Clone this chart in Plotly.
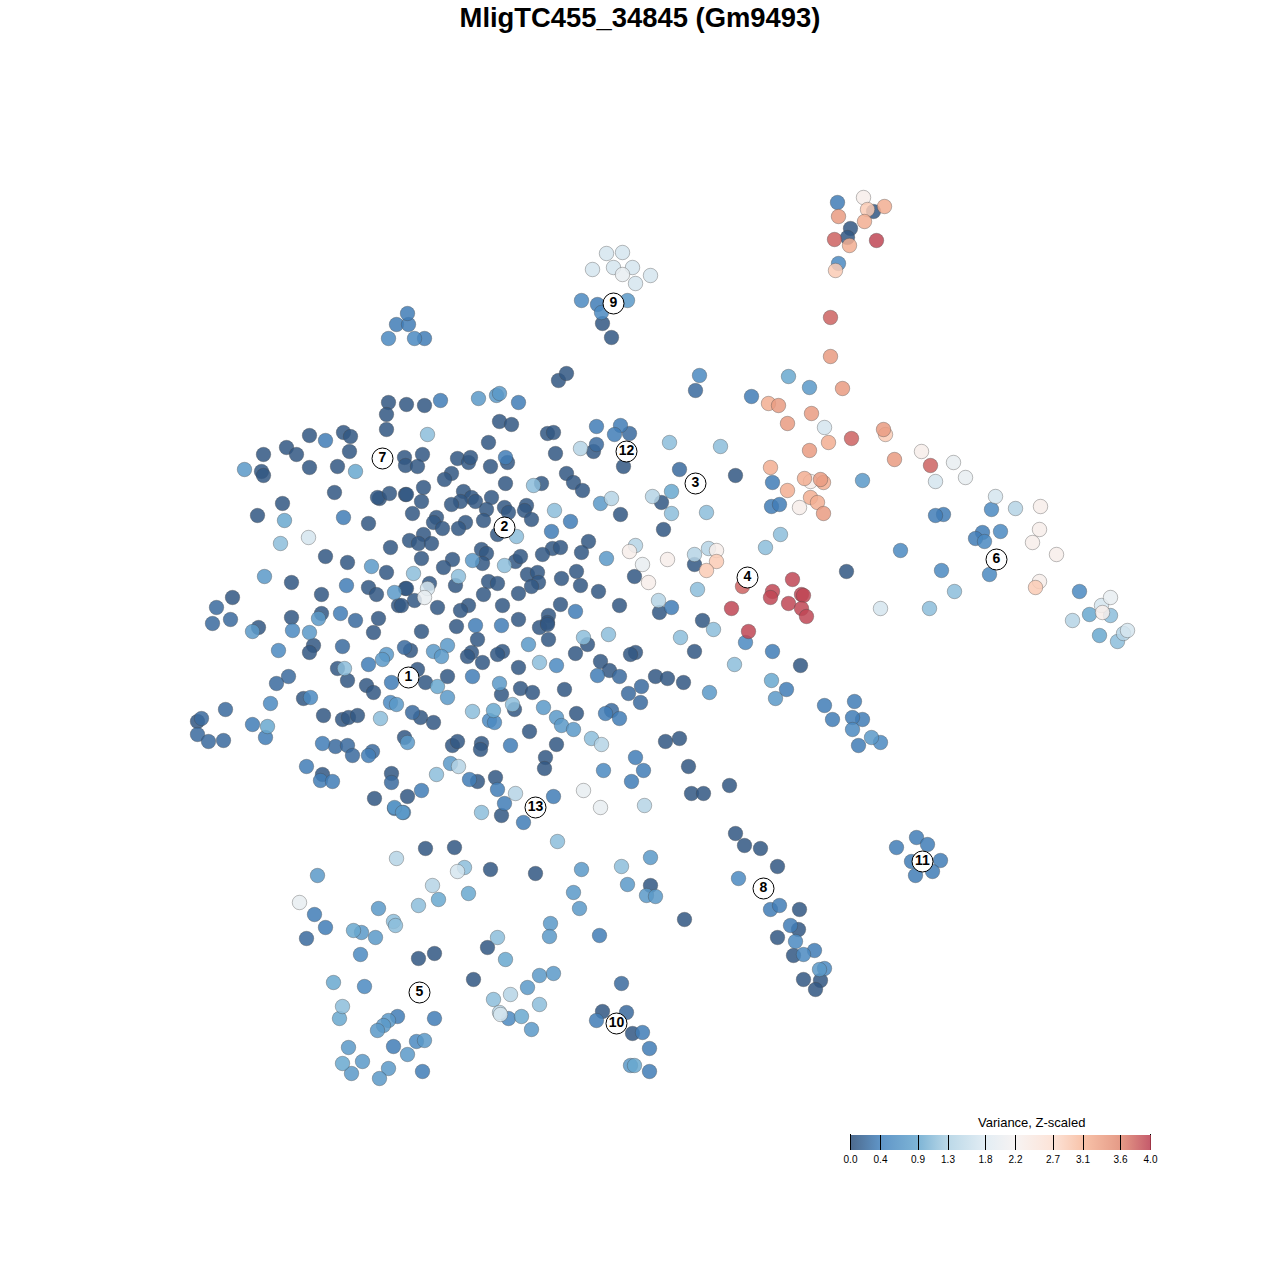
import plotly.graph_objects as go

# cells as (x, y), grouped by variance level
var_005 = [
    (388,402),(406,404),(424,405),(386,414),(386,429),(309,435),(343,432),(350,436),(263,454),(286,447),
    (296,454),(349,451),(309,467),(337,466),(261,471),(263,475),(334,492),(379,498),(377,497),(389,493),
    (405,494),(282,503),(257,515),(368,523),(412,513),(409,540),(390,547),(325,556),(347,562),(386,572),
    (291,582),(368,587),(376,594),(405,588),(414,600),(398,605),(321,594),(232,597),(291,617),(321,613),
    (378,618),(499,421),(511,424),(488,442),(547,433),(553,432),(593,451),(555,453),(623,466),(404,457),
    (405,465),(422,454),(417,466),(457,458),(468,462),(470,457),(490,466),(507,462),(451,473),(444,479),
    (566,473),(573,482),(582,490),(505,483),(541,483),(423,487),(406,494),(421,501),(463,491),(471,497),
    (460,501),(451,504),(475,501),(491,497),(486,509),(504,507),(508,512),(526,505),(524,510),(531,519),
    (620,514),(483,520),(436,517),(433,522),(442,528),(465,522),(458,528),(423,534),(418,543),(431,543),
    (497,534),(552,548),(560,547),(542,554),(588,541),(581,552),(421,558),(452,559),(443,567),(481,549),
    (486,553),(482,563),(515,561),(520,556),(527,574),(537,572),(576,571),(561,578),(634,576),(429,583),
    (406,588),(455,585),(488,581),(497,583),(483,594),(518,593),(538,582),(531,586),(580,585),(598,591),
    (437,607),(468,605),(460,610),(502,605),(560,604),(619,605),(518,619),(548,615),(547,622),(558,380),
    (566,373),(401,605),(539,627),(547,624),(456,626),(421,631),(477,639),(548,639),(587,644),(410,650),
    (471,652),(467,656),(482,662),(502,651),(497,654),(575,653),(635,652),(630,654),(655,676),(518,667),
    (600,661),(609,670),(417,669),(425,682),(447,676),(501,694),(520,688),(532,692),(564,689),(420,717),
    (433,722),(514,709),(576,713),(529,731),(556,744),(404,737),(452,745),(457,741),(481,743),(480,749),
    (545,757),(544,768),(477,781),(495,777),(501,815),(407,796),(258,627),(373,632),(313,645),(309,652),
    (337,668),(347,680),(366,685),(373,692),(303,698),(197,721),(323,715),(342,719),(348,717),(357,715),
    (391,773),(374,798),(322,774),(659,612),(702,620),(694,651),(667,678),(683,682),(800,665),(665,741),
    (679,738),(688,766),(729,785),(691,793),(703,793),(663,529),(661,502),(735,475),(846,571),(694,564),
    (873,211),(850,228),(847,237),(602,323),(611,337),(735,833),(744,845),(760,848),(777,866),(799,909),
    (798,929),(777,937),(793,955),(803,979),(820,980),(815,989),(425,848),(454,847),(490,869),(535,873),
    (650,885),(684,919),(487,947),(434,953),(418,958),(473,979),(602,1011),(632,1033),
]
var_02 = [
    (216,607),(212,623),(230,619),(355,620),(342,646),(288,676),(276,683),(225,709),(201,718),(197,734),
    (208,741),(223,740),(335,746),(347,745),(352,755),(372,751),(412,712),(404,647),(391,782),(596,444),
    (629,433),(628,693),(641,686),(640,702),(619,676),(611,710),(695,390),(679,469),(306,938),(626,1012),
    (621,983),
]
var_035 = [
    (325,440),(343,517),(346,585),(340,613),(440,400),(518,402),(596,426),(620,425),(614,434),(505,457),
    (570,521),(551,531),(575,611),(475,625),(501,625),(597,675),(472,676),(605,713),(619,718),(510,745),
    (635,757),(643,770),(631,781),(469,779),(497,789),(504,803),(523,822),(553,796),(421,790),(394,808),
    (252,724),(265,737),(322,743),(368,755),(368,664),(391,682),(306,766),(320,780),(332,781),(837,202),
    (597,304),(396,324),(408,324),(407,313),(424,338),(771,506),(779,504),(943,514),(935,515),(772,482),
    (751,396),(982,532),(975,538),(916,837),(927,844),(896,847),(911,861),(940,860),(932,871),(915,875),
    (824,705),(832,719),(862,719),(772,651),(671,607),(770,909),(779,905),(790,925),(814,950),(314,914),
    (325,927),(599,935),(434,1018),(397,1016),(642,1032),(393,1046),(596,1020),(422,1071),(649,1071),(649,1048),
    (854,701),(852,717),(858,745),(786,689),
]
var_05 = [
    (278,650),(292,630),(310,697),(270,703),(390,702),(403,812),(556,665),(603,770),(489,720),(494,722),
    (838,263),(581,300),(601,312),(388,338),(414,338),(699,375),(900,550),(991,509),(1000,531),(984,541),
    (1079,591),(852,729),(880,742),(738,878),(795,941),(803,954),(824,968),(360,954),(364,986),(416,1041),
    (508,1018),(989,574),(941,570),(745,642),
]
var_07 = [
    (244,469),(264,576),(371,566),(394,592),(318,618),(252,631),(309,632),(386,654),(478,398),(496,395),
    (499,393),(606,558),(600,503),(472,560),(433,651),(447,645),(441,656),(447,697),(499,683),(396,704),
    (407,742),(543,707),(556,717),(561,725),(573,729),(450,763),(394,807),(402,812),(528,644),(382,659),
    (627,300),(317,875),(581,869),(650,857),(627,884),(646,895),(655,896),(573,892),(579,908),(378,908),
    (550,923),(549,936),(361,932),(375,937),(539,975),(553,973),(527,987),(388,1020),(383,1025),(377,1030),
    (424,1040),(407,1054),(362,1061),(388,1068),(351,1073),(379,1078),(531,1029),(348,1047),(630,1065),(809,387),
    (862,480),(871,737),(775,698),(709,692),(819,969),
]
var_09 = [
    (355,471),(284,520),(267,726),(493,710),(437,686),(438,899),(788,376),(771,680),(671,491),(1089,614),
    (468,893),(505,959),(333,982),(353,930),(342,1063),(339,1018),(634,1065),(521,1016),(1099,635),
]
var_11 = [
    (427,434),(533,485),(344,668),(554,510),(504,565),(516,536),(280,543),(413,573),(458,576),(380,718),
    (539,662),(583,637),(608,634),(472,711),(512,704),(591,738),(436,774),(481,812),(557,841),(464,867),
    (621,866),(418,905),(393,921),(395,925),(497,937),(342,1006),(493,999),(539,1004),(720,446),(669,442),
    (671,513),(706,512),(780,534),(765,547),(697,589),(713,629),(680,637),(734,664),(954,591),(929,608),
    (1110,615),(1117,641),
]
var_13 = [
    (611,498),(580,448),(635,545),(644,805),(601,744),(458,766),(515,793),(652,496),(694,554),(658,600),
    (708,548),(1015,508),(1072,620),(396,858),(432,885),(510,994),(499,1012),(1123,633),
]
var_16 = [
    (427,588),(606,253),(622,252),(592,269),(613,267),(632,267),(650,275),(635,283),(308,537),
    (457,871),(500,1014),(824,427),(935,481),(995,496),(880,608),(1127,630),(1101,605),
]
var_19 = [
    (424,597),(642,564),(583,790),(622,274),(965,477),(953,462),(299,902),(1110,597),(600,807),
]
var_23 = [
    (629,551),(648,582),(667,559),(716,550),(1039,529),(1032,542),(1056,554),(1040,506),(1039,581),(863,197),
    (799,507),(1102,612),(810,481),(921,451),
]
var_27 = [
    (716,561),(706,570),(885,434),(1035,587),(867,209),(835,270),
]
var_30 = [
    (884,206),(864,221),(849,245),(770,467),(804,478),(823,482),(787,490),(810,497),(817,502),(768,403),
    (828,442),
]
var_32 = [
    (838,216),(830,356),(842,388),(778,405),(787,423),(809,450),(820,479),(883,429),(894,459),(811,413),
    (823,513),
]
var_37 = [
    (834,239),(830,317),(851,438),(930,465),(742,586),
]
var_39 = [
    (876,240),(772,591),(792,579),(770,597),(788,603),(801,594),(803,595),(801,608),(806,616),(731,608),
    (748,631),
]

levels = [var_005, var_02, var_035, var_05, var_07, var_09, var_11, var_13, var_16, var_19, var_23, var_27,
          var_30, var_32, var_37, var_39]
level_values = [0.05, 0.2, 0.35, 0.5, 0.7, 0.9, 1.1, 1.35, 1.7, 1.95, 2.3, 2.9, 3.2, 3.4, 3.8, 3.95]

cluster_ids = ['1', '2', '3', '4', '5', '6', '7', '8', '9', '10', '11', '12', '13']
cluster_x = [408, 504, 695, 747, 419, 996, 382, 763, 613, 616, 922, 626, 535]
cluster_y = [677, 527, 483, 577, 992, 559, 458, 888, 303, 1023, 861, 451, 807]

tick_vals = [0, 0.4, 0.9, 1.3, 1.8, 2.2, 2.7, 3.1, 3.6, 4.0]
tick_text = ['0.0', '0.4', '0.9', '1.3', '1.8', '2.2', '2.7', '3.1', '3.6', '4.0']

scale_colors = ['rgba(46,81,123,0.85)', 'rgba(68,131,190,0.85)', 'rgba(104,168,207,0.85)',
                'rgba(176,210,228,0.85)', 'rgba(222,234,242,0.85)', 'rgba(246,241,240,0.85)',
                'rgba(252,222,208,0.85)', 'rgba(247,184,154,0.85)', 'rgba(224,136,113,0.85)',
                'rgba(186,61,81,0.85)']

FONT = 'Liberation Sans'

x, y, z = [], [], []
for pts, val in zip(levels, level_values):
    for px, py in pts:
        x.append(px)
        y.append(py)
        z.append(val)

fig = go.Figure()

fig.add_trace(go.Scatter(
    x=x, y=y, mode='markers', hoverinfo='skip', showlegend=False,
    marker=dict(
        size=14.5, color=z, cmin=0, cmax=4,
        colorscale=[[v / 4, c] for v, c in zip(tick_vals, scale_colors)],
        line=dict(color='rgba(70,70,70,0.45)', width=0.8),
        colorbar=dict(
            orientation='h', lenmode='pixels', len=300, thickness=15, thicknessmode='pixels',
            x=850.5 / 1280, xanchor='left', y=1 - 1134.5 / 1280, yanchor='top', xpad=0, ypad=0,
            outlinewidth=0, borderwidth=0,
            tickmode='array', tickvals=tick_vals, ticktext=tick_text,
            ticks='inside', ticklen=15, tickwidth=1, tickcolor='black',
            tickfont=dict(family=FONT, size=10, color='black'),
        ),
    ),
))

fig.add_trace(go.Scatter(
    x=cluster_x, y=cluster_y, mode='markers+text', text=cluster_ids, textposition='middle center',
    textfont=dict(family=FONT, size=14, color='black', weight='bold'),
    hoverinfo='skip', showlegend=False,
    marker=dict(size=21, color='white', line=dict(color='black', width=1)),
))

# end ticks of the colour bar, which plotly leaves out
bar_ends = [850.5, 1150.5]
shapes = [dict(type='line', xref='paper', yref='paper', x0=e / 1280, x1=e / 1280,
               y0=1 - 1134 / 1280, y1=1 - 1150 / 1280, line=dict(color='black', width=1)) for e in bar_ends]

fig.update_layout(
    width=1280, height=1280,
    margin=dict(l=0, r=0, t=0, b=0),
    paper_bgcolor='white', plot_bgcolor='white',
    xaxis=dict(range=[-0.5, 1279.5], visible=False),
    yaxis=dict(range=[1279.5, -0.5], visible=False),
    title=dict(text='<b>MligTC455_34845 (Gm9493)</b>', x=0.5, xanchor='center', y=1 - 17 / 1280, yanchor='middle',
               font=dict(family=FONT, size=27.4, color='black')),
    annotations=[dict(text='Variance, Z-scaled', x=1031 / 1280, y=1 - 1122 / 1280, xref='paper', yref='paper',
                      showarrow=False, xanchor='center', yanchor='middle',
                      font=dict(family=FONT, size=13, color='black'))],
    shapes=shapes,
)

fig.write_html('out.html', config={'displayModeBar': False}, post_script="document.body.style.margin='0';")
